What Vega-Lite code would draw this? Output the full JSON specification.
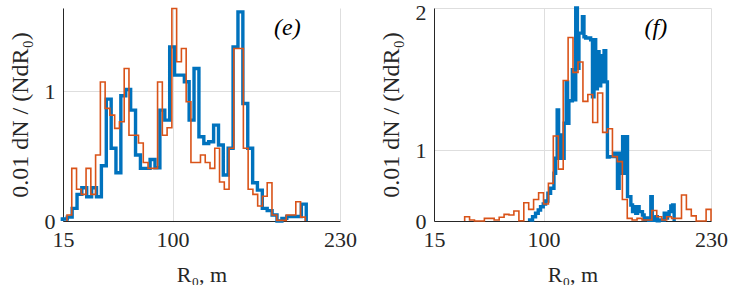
{
  "$schema": "https://vega.github.io/schema/vega-lite/v6.json",
  "padding": {"left": 8, "top": 1, "right": 0, "bottom": 0},
  "background": "white",
  "spacing": 22,
  "config": {
    "view": {"stroke": null},
    "font": "Liberation Serif",
    "axis": {
      "grid": true,
      "gridColor": "#dedede",
      "gridWidth": 1,
      "domainColor": "#262626",
      "domainWidth": 1,
      "ticks": false,
      "labelFontSize": 22,
      "labelColor": "#262626",
      "labelFont": "Liberation Serif",
      "titleFont": "Liberation Serif",
      "titleFontSize": 22,
      "titleFontWeight": "normal",
      "titleColor": "#262626",
      "labelFlush": false,
      "labelPadding": 8,
      "format": "d"
    }
  },
  "datasets": {
    "e_orange": [
      {"x":18.1,"y":0},{"x":18.1,"y":0.046},{"x":21.8,"y":0.405},{"x":25.5,"y":0.244},{"x":29.2,"y":0.205},{"x":32.9,"y":0.405},{"x":36.6,"y":0.205},{"x":40.3,"y":0.508},{"x":44.0,"y":1.07},{"x":47.7,"y":0.867},{"x":51.4,"y":0.815},{"x":55.1,"y":0.713},{"x":58.8,"y":0.764},{"x":62.5,"y":1.174},{"x":66.2,"y":0.66},{"x":69.9,"y":0.66},{"x":73.6,"y":0.60},{"x":77.3,"y":0.45},{"x":81.0,"y":0.405},{"x":84.7,"y":0.405},{"x":88.4,"y":1.07},{"x":92.1,"y":0.66},{"x":95.8,"y":0.718},{"x":99.5,"y":1.636},{"x":103.2,"y":1.226},{"x":106.9,"y":1.328},{"x":110.6,"y":0.918},{"x":114.3,"y":0.45},{"x":118.0,"y":0.45},{"x":121.7,"y":0.508},{"x":125.4,"y":0.45},{"x":129.1,"y":0.405},{"x":132.8,"y":0.56},{"x":136.5,"y":0.30},{"x":140.2,"y":0.244},{"x":143.9,"y":0.56},{"x":147.6,"y":1.328},{"x":151.3,"y":1.328},{"x":155.0,"y":0.56},{"x":158.7,"y":0.244},{"x":162.4,"y":0.205},{"x":166.1,"y":0.115},{"x":169.8,"y":0.19},{"x":173.5,"y":0.295},{"x":177.2,"y":0.046},{"x":180.9,"y":0.005},{"x":184.6,"y":0.005},{"x":188.3,"y":0.046},{"x":192.0,"y":0.046},{"x":195.7,"y":0.148},{"x":199.4,"y":0.03},{"x":203.1,"y":0}
    ],
    "e_blue": [
      {"x":14.5,"y":0},{"x":14.5,"y":0.015},{"x":18.3,"y":0.03},{"x":22.1,"y":0.097},{"x":25.9,"y":0.205},{"x":29.6,"y":0.256},{"x":33.4,"y":0.187},{"x":37.2,"y":0.256},{"x":41.0,"y":0.187},{"x":44.8,"y":0.425},{"x":48.6,"y":0.938},{"x":52.4,"y":0.56},{"x":56.1,"y":0.372},{"x":59.9,"y":0.964},{"x":63.7,"y":1.013},{"x":67.5,"y":0.854},{"x":71.3,"y":0.508},{"x":75.1,"y":0.405},{"x":78.9,"y":0.405},{"x":82.6,"y":0.474},{"x":86.4,"y":0.41},{"x":90.2,"y":0.854},{"x":94.0,"y":0.777},{"x":97.8,"y":1.341},{"x":101.6,"y":1.123},{"x":105.4,"y":1.123},{"x":109.2,"y":1.072},{"x":112.9,"y":0.777},{"x":116.7,"y":1.174},{"x":120.5,"y":0.649},{"x":124.3,"y":0.597},{"x":128.1,"y":0.61},{"x":131.9,"y":0.738},{"x":135.7,"y":0.585},{"x":139.4,"y":0.354},{"x":143.2,"y":0.56},{"x":147.0,"y":1.341},{"x":150.8,"y":1.61},{"x":154.6,"y":0.905},{"x":158.4,"y":0.56},{"x":162.2,"y":0.295},{"x":165.9,"y":0.238},{"x":169.7,"y":0.097},{"x":173.5,"y":0.08},{"x":177.3,"y":0.046},{"x":181.1,"y":0},{"x":184.9,"y":0.02},{"x":188.7,"y":0.035},{"x":192.5,"y":0.035},{"x":196.2,"y":0.035},{"x":200.0,"y":0.13},{"x":203.8,"y":0}
    ],
    "f_orange": [
      {"x":38.8,"y":0},{"x":38.8,"y":0.17},{"x":42.6,"y":0.07},{"x":46.4,"y":0},{"x":50.3,"y":0},{"x":54.1,"y":0.125},{"x":57.9,"y":0.125},{"x":61.7,"y":0.07},{"x":65.6,"y":0.155},{"x":69.4,"y":0.225},{"x":73.2,"y":0.21},{"x":77.0,"y":0.29},{"x":80.9,"y":0.03},{"x":84.7,"y":0.425},{"x":88.5,"y":0.32},{"x":92.3,"y":0.47},{"x":96.2,"y":0.56},{"x":100.0,"y":0.405},{"x":103.8,"y":0.67},{"x":107.6,"y":1.12},{"x":111.5,"y":0.82},{"x":115.3,"y":1.538},{"x":119.1,"y":1.82},{"x":122.9,"y":1.594},{"x":126.8,"y":1.663},{"x":130.6,"y":1.39},{"x":134.4,"y":1.44},{"x":138.2,"y":1.23},{"x":142.0,"y":1.45},{"x":145.9,"y":1.15},{"x":149.7,"y":1.18},{"x":153.5,"y":0.94},{"x":157.3,"y":0.893},{"x":161.2,"y":0.47},{"x":165.0,"y":0.125},{"x":168.8,"y":0.07},{"x":172.6,"y":0.125},{"x":176.5,"y":0.07},{"x":180.3,"y":0.07},{"x":184.1,"y":0.3},{"x":187.9,"y":0.17},{"x":191.8,"y":0.07},{"x":195.6,"y":0.17},{"x":199.4,"y":0.125},{"x":203.2,"y":0.125},{"x":207.1,"y":0.53},{"x":210.9,"y":0.32},{"x":214.7,"y":0.19},{"x":218.5,"y":0},{"x":222.4,"y":0},{"x":226.2,"y":0.32},{"x":230.0,"y":0}
    ],
    "f_blue": [
      {"x":89.2,"y":0},{"x":89.2,"y":0.068},{"x":91.5,"y":0.17},{"x":93.8,"y":0.246},{"x":95.9,"y":0.309},{"x":97.7,"y":0.364},{"x":99.8,"y":0.406},{"x":101.6,"y":0.45},{"x":103.4,"y":0.552},{"x":105.5,"y":0.613},{"x":108.1,"y":0.779},{"x":109.4,"y":0.925},{"x":110.6,"y":1.327},{"x":111.7,"y":0.925},{"x":112.9,"y":0.937},{"x":114.1,"y":1.129},{"x":115.1,"y":0.925},{"x":116.0,"y":1.224},{"x":117.6,"y":1.529},{"x":118.7,"y":1.224},{"x":119.7,"y":1.394},{"x":122.4,"y":1.611},{"x":123.6,"y":1.401},{"x":125.0,"y":2.0},{"x":126.3,"y":1.622},{"x":127.5,"y":1.848},{"x":130.2,"y":1.948},{"x":131.4,"y":1.825},{"x":132.7,"y":1.817},{"x":136.6,"y":1.806},{"x":138.0,"y":1.423},{"x":139.2,"y":1.806},{"x":140.5,"y":1.48},{"x":141.8,"y":1.73},{"x":143.1,"y":1.501},{"x":144.4,"y":1.704},{"x":145.7,"y":1.529},{"x":147.0,"y":1.737},{"x":148.3,"y":1.529},{"x":149.6,"y":0.937},{"x":150.9,"y":0.94},{"x":154.8,"y":0.971},{"x":157.4,"y":0.613},{"x":158.7,"y":0.971},{"x":160.0,"y":0.779},{"x":161.4,"y":1.115},{"x":162.6,"y":0.779},{"x":163.9,"y":1.115},{"x":165.2,"y":0.509},{"x":167.8,"y":0.391},{"x":169.1,"y":0.278},{"x":170.3,"y":0.364},{"x":171.6,"y":0.246},{"x":173.0,"y":0.364},{"x":174.2,"y":0.278},{"x":176.8,"y":0.211},{"x":178.1,"y":0.088},{"x":179.4,"y":0.136},{"x":181.7,"y":0.05},{"x":183.3,"y":0.509},{"x":184.4,"y":0.136},{"x":185.6,"y":0.05},{"x":187.2,"y":0.17},{"x":188.3,"y":0.03},{"x":189.7,"y":0.068},{"x":193.7,"y":0.246},{"x":195.0,"y":0.136},{"x":196.3,"y":0.211},{"x":197.5,"y":0.278},{"x":198.8,"y":0.375},{"x":200.2,"y":0.391},{"x":201.4,"y":0}
    ],
    "e_label": [{"x":189.2,"y":1.485,"t":"(e)"}],
    "f_label": [{"x":187.2,"y":1.881,"t":"(f)"}]
  },
  "hconcat": [
    {
      "width": 277,
      "height": 213,
      "encoding": {
        "x": {"field":"x","type":"quantitative","scale":{"domain":[15,230],"nice":false,"zero":false},
              "axis":{"values":[15,100,230],"title":"R₀, m","titlePadding":14}},
        "y": {"field":"y","type":"quantitative","scale":{"domain":[0,1.64],"nice":false},
              "axis":{"values":[0,1],"title":"0.01 dN  /  (NdR₀)","titlePadding":12,"titleFontSize":24}}
      },
      "layer": [
        {"data":{"name":"e_blue"},"mark":{"type":"line","interpolate":"step-after","color":"#0072BD","strokeWidth":3.4},"encoding":{"order":{"value":null}}},
        {"data":{"name":"e_orange"},"mark":{"type":"line","interpolate":"step-after","color":"#D95319","strokeWidth":1.6},"encoding":{"order":{"value":null}}},
        {"data":{"name":"e_label"},"mark":{"type":"text","fontSize":24,"fontStyle":"italic","font":"Liberation Serif","color":"#000000","align":"center","baseline":"middle"},"encoding":{"text":{"field":"t"}}}
      ]
    },
    {
      "width": 277,
      "height": 213,
      "encoding": {
        "x": {"field":"x","type":"quantitative","scale":{"domain":[15,230],"nice":false,"zero":false},
              "axis":{"values":[15,100,230],"title":"R₀, m","titlePadding":14}},
        "y": {"field":"y","type":"quantitative","scale":{"type":"pow","exponent":1.585,"domain":[0,2],"nice":false},
              "axis":{"values":[0,1,2],"title":"0.01 dN  /  (NdR₀)","titlePadding":12,"titleFontSize":24,
                      "labelOffset":{"condition":{"test":"datum.value === 2","value":4},"value":0}}}
      },
      "layer": [
        {"data":{"name":"f_blue"},"mark":{"type":"line","interpolate":"step-after","color":"#0072BD","strokeWidth":3.4},"encoding":{"order":{"value":null}}},
        {"data":{"name":"f_orange"},"mark":{"type":"line","interpolate":"step-after","color":"#D95319","strokeWidth":1.6},"encoding":{"order":{"value":null}}},
        {"data":{"name":"f_label"},"mark":{"type":"text","fontSize":24,"fontStyle":"italic","font":"Liberation Serif","color":"#000000","align":"center","baseline":"middle"},"encoding":{"text":{"field":"t"}}}
      ]
    }
  ]
}
